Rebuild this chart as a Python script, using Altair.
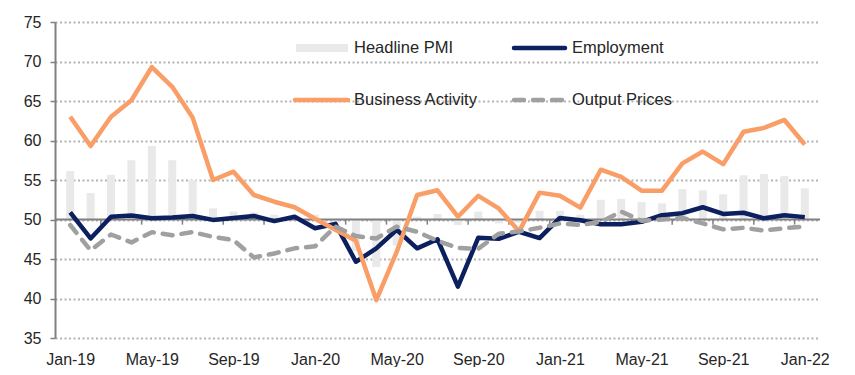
import altair as alt
import pandas as pd

months = ["Jan-19", "Feb-19", "Mar-19", "Apr-19", "May-19", "Jun-19", "Jul-19", "Aug-19",
          "Sep-19", "Oct-19", "Nov-19", "Dec-19", "Jan-20", "Feb-20", "Mar-20", "Apr-20",
          "May-20", "Jun-20", "Jul-20", "Aug-20", "Sep-20", "Oct-20", "Nov-20", "Dec-20",
          "Jan-21", "Feb-21", "Mar-21", "Apr-21", "May-21", "Jun-21", "Jul-21", "Aug-21",
          "Sep-21", "Oct-21", "Nov-21", "Dec-21", "Jan-22"]

headline_pmi = [56.15, 53.35, 55.65, 57.5, 59.3, 57.5, 55.0, 51.4, 51.0, 50.9, 50.6, 50.3,
                50.6, 49.6, 46.0, 44.0, 46.7, 50.35, 50.7, 49.3, 51.0, 49.5, 49.6, 51.1,
                51.1, 50.6, 52.5, 52.6, 52.2, 52.05, 53.85, 53.7, 53.2, 55.6, 55.75, 55.5,
                53.95]

business_activity = [63.0, 59.3, 63.0, 65.1, 69.3, 66.8, 62.9, 55.0, 56.05, 53.1, 52.25, 51.55,
                     50.1, 48.7, 47.3, 39.8, 45.9, 53.1, 53.7, 50.35, 53.0, 51.4, 48.5, 53.4,
                     53.0, 51.5, 56.3, 55.4, 53.65, 53.65, 57.1, 58.6, 57.0, 61.1, 61.6, 62.6,
                     59.5]

employment = [50.9, 47.6, 50.35, 50.5, 50.15, 50.25, 50.45, 49.95, 50.2, 50.45, 49.8, 50.35,
              48.9, 49.45, 44.65, 46.35, 48.7, 46.35, 47.5, 41.5, 47.7, 47.55, 48.45, 47.65,
              50.2, 49.9, 49.4, 49.4, 49.7, 50.55, 50.8, 51.55, 50.7, 50.85, 50.15, 50.55,
              50.3]

output_prices = [49.3, 46.1, 48.1, 47.1, 48.4, 48.0, 48.4, 47.8, 47.4, 45.2, 45.7, 46.35,
                 46.6, 49.1, 47.9, 47.6, 49.1, 48.45, 47.3, 46.4, 46.3, 48.2, 48.5, 48.95,
                 49.5, 49.3, 49.7, 51.0, 49.85, 50.0, 50.2, 49.5, 48.75, 48.95, 48.6, 48.9,
                 49.1]

y_ticks = [35, 40, 45, 50, 55, 60, 65, 70, 75]
x_label_idx = list(range(0, 37, 4))
x_tick_idx = [1.5 + 2 * k for k in range(18)]

FONT = "Liberation Sans"
TXT = "#262626"
C_BAR = "#E9E9E9"
C_EMP = "#0C1F5E"
C_BUS = "#FA9E68"
C_OUT = "#A0A0A0"
C_AX = "#808080"

df = pd.DataFrame({
    "i": list(range(len(months))),
    "month": months,
    "headline": headline_pmi,
    "business": business_activity,
    "employment": employment,
    "output": output_prices,
})

label_expr = "[" + ",".join("'" + m + "'" for m in months) + "][round(datum.value)]"

xscale = alt.Scale(domain=[-0.5, len(months) - 0.5], nice=False, zero=False)
xaxis = alt.Axis(values=x_label_idx, labelExpr=label_expr, title=None, grid=False,
                 domain=False, ticks=False, labelPadding=13, labelFontSize=16,
                 labelFont=FONT, labelColor=TXT, labelOverlap=False, labelFlush=False)
yscale = alt.Scale(domain=[35, 75], nice=False, zero=False)
yaxis = alt.Axis(values=y_ticks, title=None, grid=True, gridDash=[2, 2.5],
                 gridColor="#B4B4B4", gridWidth=2, gridOpacity=1,
                 domainColor=C_AX, domainWidth=2,
                 tickColor=C_AX, tickSize=5, tickWidth=1.5, labelPadding=9,
                 labelFontSize=16, labelFont=FONT, labelColor=TXT,
                 labelOverlap=False, labelFlush=False)


def X():
    return alt.X("i:Q", scale=xscale, axis=xaxis)


def Y(field):
    return alt.Y(field, scale=yscale, axis=yaxis)


bars = alt.Chart(df).mark_bar(size=8, color=C_BAR).encode(
    x=X(), y=Y("headline:Q"), y2=alt.Y2(datum=50))

base_line = alt.Chart(pd.DataFrame({"v": [50]})).mark_rule(
    color=C_AX, strokeWidth=2).encode(y=Y("v:Q"))

tick_df = pd.DataFrame({"i": x_tick_idx, "top": [50] * len(x_tick_idx),
                        "bot": [49.35] * len(x_tick_idx)})
ticks = alt.Chart(tick_df).mark_rule(color=C_AX, strokeWidth=1.5).encode(
    x=X(), y=Y("top:Q"), y2="bot:Q")

emp = alt.Chart(df).mark_line(color=C_EMP, strokeWidth=4.5, strokeJoin="round").encode(
    x=X(), y=Y("employment:Q"))
bus = alt.Chart(df).mark_line(color=C_BUS, strokeWidth=4.5, strokeJoin="round").encode(
    x=X(), y=Y("business:Q"))
out = alt.Chart(df).mark_line(color=C_OUT, strokeWidth=4.5, strokeDash=[10, 9],
                              strokeCap="round", strokeJoin="round").encode(
    x=X(), y=Y("output:Q"))

one = pd.DataFrame({"a": [0]})
leg = [
    alt.Chart(one).mark_rect(color=C_BAR).encode(
        x=alt.value(241), x2=alt.value(293), y=alt.value(22), y2=alt.value(30)),
    alt.Chart(one).mark_rule(color=C_EMP, strokeWidth=4.5, strokeCap="round").encode(
        x=alt.value(459), x2=alt.value(510), y=alt.value(26)),
    alt.Chart(one).mark_rule(color=C_BUS, strokeWidth=4.5, strokeCap="round").encode(
        x=alt.value(240), x2=alt.value(293), y=alt.value(78)),
    alt.Chart(one).mark_rule(color=C_OUT, strokeWidth=4.5, strokeCap="round",
                             strokeDash=[10, 9]).encode(
        x=alt.value(459), x2=alt.value(512), y=alt.value(78)),
]
for label, px, py in [("Headline PMI", 299, 26), ("Employment", 517, 26),
                      ("Business Activity", 299, 78), ("Output Prices", 517, 78)]:
    leg.append(alt.Chart(one).mark_text(align="left", baseline="middle", fontSize=16.5,
                                        font=FONT, color=TXT).encode(
        x=alt.value(px), y=alt.value(py), text=alt.value(label)))

chart = alt.layer(bars, base_line, ticks, emp, bus, out, *leg).properties(
    width=765, height=316,
    autosize=alt.AutoSizeParams(type="none"),
    padding={"left": 47, "top": 14, "right": 27, "bottom": 29},
    background="white",
).configure_view(stroke=None).configure_axisY(labelOverlap=False)

chart.save("out.html", embed_options={"renderer": "svg", "actions": False})
